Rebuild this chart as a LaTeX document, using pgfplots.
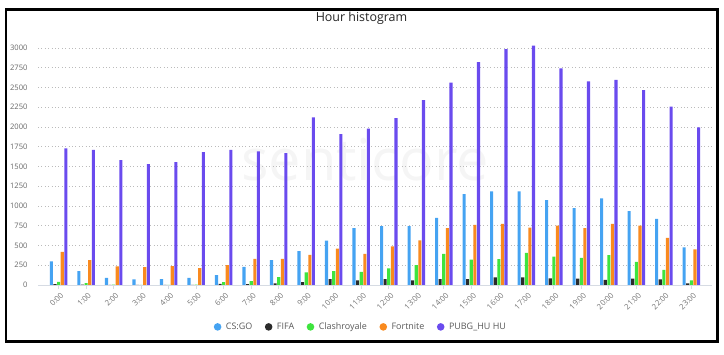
\documentclass[border=0pt]{standalone}
\usepackage{pgfplots}
\usepackage{pgfplotstable}
\pgfplotsset{compat=1.18}
\usepackage{fontspec}
\setmainfont{Open Sans}
\definecolor{cCS}{HTML}{45A3F2}
\definecolor{cFIFA}{HTML}{2B2B2B}
\definecolor{cCR}{HTML}{3EE43E}
\definecolor{cFN}{HTML}{F98A1F}
\definecolor{cPU}{HTML}{6A4BEE}
\definecolor{tickgray}{HTML}{666666}
\definecolor{gridgray}{HTML}{BBBBBB}
\definecolor{axisgray}{HTML}{D6DBE3}

\pgfplotstableread{
h csgo fifa clash fortnite pubg
0  300 10 40 420 1730
1  175 5  25 315 1710
2  90  3  5  235 1580
3  70  2  3  225 1530
4  75  2  3  240 1555
5  90  3  5  215 1680
6  125 15 35 250 1710
7  230 10 50 330 1690
8  315 20 100 330 1670
9  430 35 160 380 2120
10 560 75 175 460 1910
11 720 60 165 395 1980
12 745 75 210 490 2110
13 745 60 250 565 2340
14 850 75 395 720 2560
15 1150 75 320 760 2820
16 1185 95 328 775 2985
17 1185 95 405 725 3030
18 1075 85 360 750 2740
19 972 80 342 720 2578
20 1095 65 378 775 2594
21 934 80 292 750 2465
22 838 70 190 595 2258
23 475 20 60 450 1995
}\datatable

\begin{document}
\begin{tikzpicture}
\useasboundingbox (0,0) rectangle (724bp,355bp);
\node[text=black!4, font=\fontsize{58}{58}\selectfont] at (365bp,195bp) {senticore};
\node[text=black!85, font=\fontsize{12.5}{14}\selectfont] at (361.5bp,337bp) {Hour histogram};
\begin{axis}[
  at={(38bp,70bp)}, anchor=south west,
  width=674bp, height=245bp, scale only axis,
  ybar=0.5bp, bar width=3.1bp,
  xmin=-0.75, xmax=23.75, ymin=0, ymax=3100,
  xtick={0,...,23},
  xticklabels={0:00,1:00,2:00,3:00,4:00,5:00,6:00,7:00,8:00,9:00,10:00,11:00,12:00,13:00,14:00,15:00,16:00,17:00,18:00,19:00,20:00,21:00,22:00,23:00},
  ytick={0,250,...,3000},
  axis x line*=bottom,
  axis y line*=left,
  y axis line style={draw=none},
  x axis line style={draw=axisgray, line width=0.8bp, -},
  xtick style={draw=axisgray, line width=0.8bp},
  tick align=outside, major tick length=4bp,
  ytick style={draw=none},
  ymajorgrids,
  grid style={draw=gridgray, line width=0.7bp, dash pattern=on 0.8bp off 2.6bp},
  x tick label style={rotate=45, anchor=north east, font=\fontsize{7.8}{9}\selectfont, text=black!55, inner sep=1bp, yshift=-2bp},
  y tick label style={font=\fontsize{7.6}{9}\selectfont, text=tickgray, xshift=-3bp},
  /pgf/number format/assume math mode=true,
  /pgf/number format/1000 sep={},
  legend columns=5,
  legend style={at={(0.479,-0.171)}, anchor=center, draw=none, fill=none,
    font=\fontsize{9}{11}\selectfont, text=black!65,
    /tikz/every odd column/.append style={column sep=2.5bp},
    /tikz/every even column/.append style={column sep=10.5bp}},
  legend cell align=left,
]
\pgfplotsset{legcirc/.style={legend image code/.code={\fill[##1] (0bp,0bp) circle (3.8bp);}}}
\addplot[fill=cCS, draw=none, legcirc] table[x=h, y=csgo] {\datatable};
\addplot[fill=cFIFA, draw=none, legcirc] table[x=h, y=fifa] {\datatable};
\addplot[fill=cCR, draw=none, legcirc] table[x=h, y=clash] {\datatable};
\addplot[fill=cFN, draw=none, legcirc] table[x=h, y=fortnite] {\datatable};
\addplot[fill=cPU, draw=none, legcirc] table[x=h, y=pubg] {\datatable};
\legend{CS:GO, FIFA, Clashroyale, Fortnite, PUBG\_HU HU}
\end{axis}
\draw[line width=2.6bp] (5.8bp,345.7bp) rectangle (717.2bp,13.7bp);
\end{tikzpicture}
\end{document}
